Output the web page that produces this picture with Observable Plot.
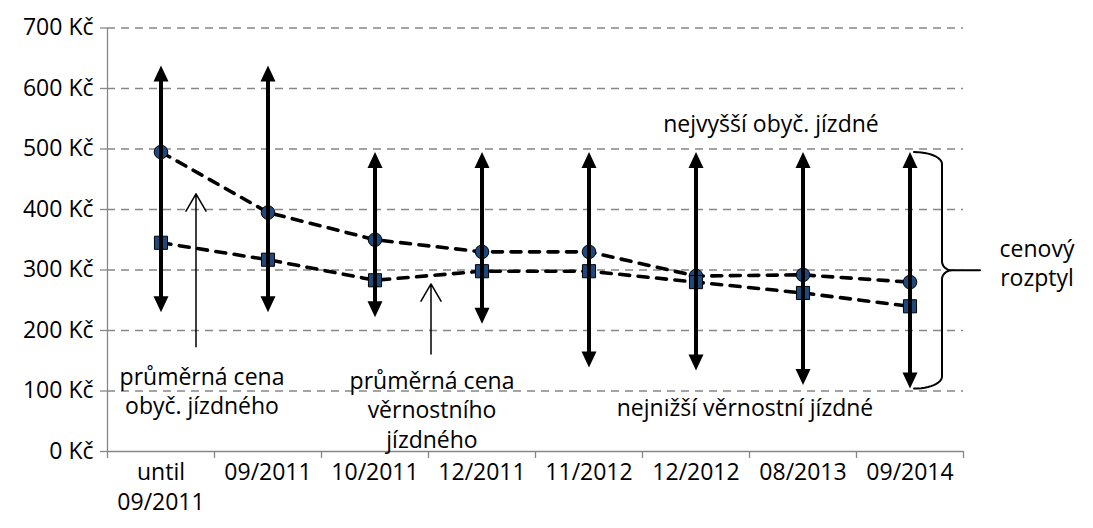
<!DOCTYPE html>
<html>
<head>
<meta charset="utf-8">
<script src="https://cdn.jsdelivr.net/npm/d3@7"></script>
<script src="https://cdn.jsdelivr.net/npm/@observablehq/plot@0.6"></script>
<style>
  html, body { margin: 0; padding: 0; background: #fff; }
  #chart { width: 1093px; height: 528px; }
</style>
</head>
<body>
<div id="chart"></div>
<script>
// ---- data ----
const categories = ["until\n09/2011", "09/2011", "10/2011", "12/2011", "11/2012", "12/2012", "08/2013", "09/2014"];
const avgOrdinary = [495, 395, 350, 330, 330, 290, 292, 280];   // průměrná cena obyč. jízdného (circles)
const avgLoyalty  = [345, 317, 283, 298, 298, 280, 262, 240];   // průměrná cena věrnostního jízdného (squares)
const maxOrdinary = [638, 638, 495, 495, 495, 495, 495, 495];   // nejvyšší obyč. jízdné (arrow tops)
const minLoyalty  = [230, 230, 222, 211, 139, 134, 110, 104];   // nejnižší věrnostní jízdné (arrow bottoms)
const yTicks = [0, 100, 200, 300, 400, 500, 600, 700];

// annotation labels: anchor category index, value (Kč), pixel shift
const labels = [
  {text: "průměrná cena\nobyč. jízdného", x: 0, y: 145, dx: 41},
  {text: "průměrná cena\nvěrnostního\njízdného", x: 2, y: 138, dx: 57},
  {text: "nejvyšší obyč. jízdné", x: 6, y: 562, dx: -32},
  {text: "nejnižší věrnostní jízdné", x: 6, y: 93, dx: -58},
  {text: "cenový\nrozptyl", x: 7, y: 356, dx: 127}
];
// pointer arrows (thin): anchor category, from value, to value, pixel shift
const pointers = [
  {x: 0, y1: 173, y2: 426, dx: 35},
  {x: 2, y1: 161, y2: 277, dx: 56}
];

// ---- layout ----
const W = 1093, H = 528;
const mL = 107, mR = 130, mT = 27.5, mB = 77;
const gray = "#878787";
const blue = "#1F497D";
const FONT = "Open Sans";
const FS = 23;

const rows = categories.map((c, i) => ({
  i, cat: c, avgO: avgOrdinary[i], avgL: avgLoyalty[i], hi: maxOrdinary[i], lo: minLoyalty[i]
}));

// filled arrowhead symbols with the tip at the anchor point
const headUp = {draw(ctx) { ctx.moveTo(0, 0); ctx.lineTo(7.5, 16); ctx.lineTo(-7.5, 16); ctx.closePath(); }};
const headDown = {draw(ctx) { ctx.moveTo(0, 0); ctx.lineTo(7.5, -16); ctx.lineTo(-7.5, -16); ctx.closePath(); }};

// curly brace ("cenový rozptyl") beside the last range, built in data units
const pxX = (W - mL - mR) / categories.length;
const pxY = (H - mT - mB) / 700;
function bracePoints(i) {
  const top = maxOrdinary[i], bot = minLoyalty[i], mid = (top + bot) / 2;
  const x0 = i + 4 / pxX, x1 = i + 32 / pxX, x2 = i + 70 / pxX;
  const cry = 12 / pxY, cr = 10 / pxX, cury = 9 / pxY;
  const pts = [];
  const n = 12;
  for (let k = 0; k <= n; k++) { const t = k / n * Math.PI / 2;
    pts.push({x: x0 + (x1 - x0) * Math.sin(t), y: top - cry + cry * Math.cos(t)}); }
  for (let k = 0; k <= n; k++) { const t = k / n * Math.PI / 2;
    pts.push({x: x1 + cr - cr * Math.cos(t), y: mid + cury - cury * Math.sin(t)}); }
  pts.push({x: x2, y: mid});
  for (let k = 0; k <= n; k++) { const t = k / n * Math.PI / 2;
    pts.push({x: x1 + cr - cr * Math.sin(t), y: mid - cury + cury * Math.cos(t)}); }
  for (let k = 0; k <= n; k++) { const t = k / n * Math.PI / 2;
    pts.push({x: x0 + (x1 - x0) * Math.cos(t), y: bot + cry - cry * Math.sin(t)}); }
  return pts;
}
const brace = bracePoints(categories.length - 1);

const chart = Plot.plot({
  width: W, height: H,
  marginLeft: mL, marginRight: mR, marginTop: mT, marginBottom: mB,
  style: {fontFamily: FONT, fontSize: FS + "px", color: "black", background: "white", overflow: "visible"},
  x: {type: "linear", domain: [-0.5, categories.length - 0.5]},
  y: {domain: [0, 700]},
  marks: [
    // dashed horizontal gridlines
    Plot.ruleY(yTicks.filter(d => d > 0), {stroke: gray, strokeWidth: 1.3, strokeDasharray: "8,6"}),
    // axis lines
    Plot.ruleY([0], {stroke: gray, strokeWidth: 1.3}),
    Plot.ruleX([-0.5], {stroke: gray, strokeWidth: 1.3}),
    Plot.axisY({ticks: yTicks, tickSize: 7, tickPadding: 7, tickFormat: d => `${d} Kč`,
      stroke: gray, strokeWidth: 1.3, fontSize: FS, label: null}),
    Plot.axisX({ticks: d3.range(categories.length + 1).map(k => k - 0.5), tickSize: 7,
      tickFormat: () => "", stroke: gray, strokeWidth: 1.3, label: null}),
    Plot.text(rows, {x: "i", text: "cat", frameAnchor: "bottom", lineAnchor: "top", dy: 7,
      fontSize: FS, lineHeight: 1.3, fill: "black"}),
    // average lines (dashed)
    Plot.line(rows, {x: "i", y: "avgO", stroke: "black", strokeWidth: 3.6, strokeDasharray: "10,8.5", strokeLinecap: "round"}),
    Plot.line(rows, {x: "i", y: "avgL", stroke: "black", strokeWidth: 3.6, strokeDasharray: "10,8.5", strokeLinecap: "round"}),
    // markers
    Plot.dot(rows, {x: "i", y: "avgO", r: 6.8, symbol: "circle", fill: blue, stroke: "black", strokeWidth: 1}),
    Plot.dot(rows, {x: "i", y: "avgL", r: 7.4, symbol: "square", fill: blue, stroke: "black", strokeWidth: 1}),
    // price range arrows
    Plot.ruleX(rows, {x: "i", y1: "hi", y2: "lo", stroke: "black", strokeWidth: 4, insetTop: 10, insetBottom: 10}),
    Plot.dot(rows, {x: "i", y: "hi", r: 8, symbol: headUp, fill: "black", stroke: "none"}),
    Plot.dot(rows, {x: "i", y: "lo", r: 8, symbol: headDown, fill: "black", stroke: "none"}),
    // pointer arrows
    ...pointers.map(p => Plot.arrow([p], {x1: "x", x2: "x", y1: "y1", y2: "y2", dx: p.dx,
      stroke: "black", strokeWidth: 1.5, headLength: 20, headAngle: 60})),
    // brace
    Plot.line(brace, {x: "x", y: "y", stroke: "black", strokeWidth: 2, curve: "linear"}),
    // annotation labels
    ...labels.map(l => Plot.text([l], {x: "x", y: "y", text: "text", dx: l.dx, lineAnchor: "top",
      fontSize: FS, lineHeight: 1.28, fill: "black"}))
  ]
});
document.getElementById("chart").appendChild(chart);
</script>
</body>
</html>
